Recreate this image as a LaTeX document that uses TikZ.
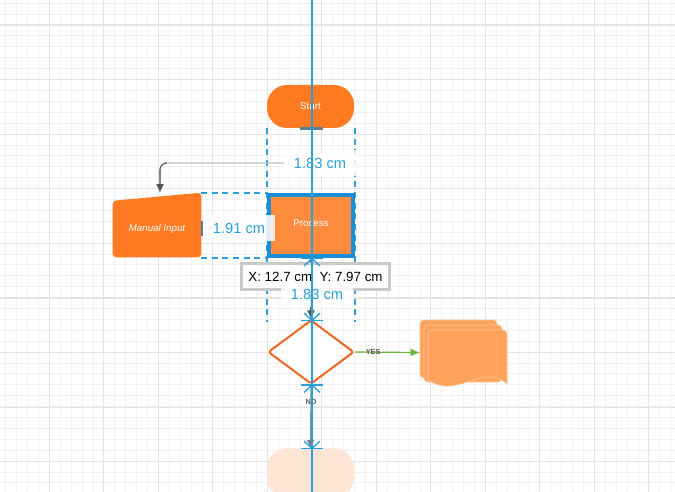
\documentclass[tikz,border=0pt]{standalone}
\usepackage{fontspec}
\setmainfont{Liberation Sans}
\usetikzlibrary{shapes.geometric,arrows.meta}
\definecolor{guide}{HTML}{2B9FDA}
\definecolor{selblue}{HTML}{1C8ED6}
\definecolor{orangeA}{HTML}{FF7A21}
\definecolor{orangeB}{HTML}{FF8B3E}
\definecolor{orangeC}{HTML}{FFA25B}
\definecolor{orangeD}{HTML}{F2661F}
\definecolor{peach}{HTML}{FFE5D6}
\definecolor{gminor}{HTML}{F1F1F1}
\definecolor{gmajor}{HTML}{E4E4E4}
\definecolor{yesgreen}{HTML}{6AB53C}
\definecolor{nored}{HTML}{C23B5B}
\definecolor{tipgray}{HTML}{C9C9C9}
\definecolor{bargray}{HTML}{5A7E96}
\definecolor{conngray}{HTML}{555555}
\tikzset{
  gridminor/.style={draw=gminor, line width=0.6pt},
  gridmajor/.style={draw=gmajor, line width=0.9pt},
  shapetext/.style={text=white, font=\fontsize{7.3}{8}\selectfont},
  dimlabel/.style={text=guide, font=\fontsize{11}{12}\selectfont, fill=white, fill opacity=0.85, text opacity=1, inner sep=0pt, minimum width=54pt, minimum height=19pt},
  guideline/.style={draw=guide, line width=1.1pt},
  dashguide/.style={draw=guide, line width=0.9pt, dash pattern=on 4.5pt off 3.5pt},
  dimmark/.style={draw=guide, line width=1pt},
  endbar/.style={draw=bargray, line width=1.6pt},
  flowarrow/.style={draw=conngray, line width=0.8pt, -{Latex[length=6.5pt,width=6pt]}},
  smalllabel/.style={text=black!65, font=\bfseries\fontsize{5.5}{6}\selectfont, inner sep=1pt}
}
\begin{document}
\begin{tikzpicture}[x=0.75pt,y=-0.75pt]
\useasboundingbox (0,0) rectangle (675,492);
\clip (0,0) rectangle (675,492);
\fill[white] (0,0) rectangle (675,492);
% grid
\foreach \i in {0,...,62} \draw[gridminor] ({5.7+10.9*\i},0) -- ({5.7+10.9*\i},492);
\foreach \i in {0,...,45} \draw[gridminor] (0,{3.2+10.9*\i}) -- (675,{3.2+10.9*\i});
\foreach \i in {0,...,11} \draw[gridmajor] ({49.3+54.5*\i},0) -- ({49.3+54.5*\i},492);
\foreach \i in {0,...,8} \draw[gridmajor] (0,{25+54.6*\i}) -- (675,{25+54.6*\i});

% dashed alignment guides
\draw[dashguide] (267,128) -- (267,322);
\draw[dashguide] (355,128) -- (355,322);
\draw[dashguide] (201,193) -- (267,193);
\draw[dashguide] (201,258) -- (267,258);

% shapes
\node[fill=orangeA, rounded corners=15pt, minimum width=65.25pt, minimum height=32.25pt, shapetext] (start) at (310.5,106.5) {Start};
\node[fill=orangeB, draw=selblue, line width=3pt, minimum width=63pt, minimum height=46pt, shapetext, anchor=center] (proc) at (311,225.5) {\raisebox{3pt}{Process}};
\node[minimum width=66pt, minimum height=48pt, inner sep=0pt] (mi) at (157,225) {};
\fill[orangeA, rounded corners=2.5pt] (mi.south west) -- ([yshift=-6pt]mi.north west) -- (mi.north east) -- (mi.south east) -- cycle;
\node[shapetext, font=\itshape\fontsize{7.3}{8}\selectfont] (mitext) at (157,229) {Manual Input};
\node[shape=diamond, draw=orangeD, fill=white, line width=1.5pt, rounded corners=2pt, minimum width=64.5pt, minimum height=48pt, inner sep=0pt] (dec) at (311,352) {};
\node[fill=peach, rounded corners=15pt, minimum width=65.25pt, minimum height=37pt] (endt) at (310.5,473) {};
% multi-document
\node[minimum width=65pt, minimum height=49pt, inner sep=0pt] (docs) at (463.5,352.5) {};
\filldraw[fill=orangeC, draw=white!40!orangeC, line width=0.5pt, rounded corners=3pt] (420,320) rectangle (497,378);
\filldraw[fill=orangeC, draw=white!40!orangeC, line width=0.5pt, rounded corners=3pt] (424,325) rectangle (502,382);
\filldraw[fill=orangeC, draw=white!40!orangeC, line width=0.5pt] (428,333) [rounded corners=3pt] -- (428,330) -- (507,330) [sharp corners] -- (507,384) .. controls (482,362) and (458,400) .. (428,380) -- cycle;

% connectors
\node[dimlabel] (lblA) at (320,163) {1.83 cm};
\coordinate (bend) at (160,163);
\draw[draw=black!25, line width=0.8pt, rounded corners=5pt] (lblA.west) -- (bend) -- (160,180);
\draw[flowarrow, rounded corners=5pt] (165,163) -- (bend) -- (mi.north -| bend);
\draw[flowarrow] (proc.south) -- (dec.north);
\draw[draw=yesgreen, line width=0.9pt, -{Latex[length=7pt,width=6pt]}] (dec.east) -- (docs.west) node[smalllabel, pos=0.28] {YES};
\draw[draw=black!45, line width=0.8pt, -{Latex[length=6pt,width=6pt,fill=nored]}] (dec.south) -- (endt.north);
\node[smalllabel] (nolbl) at (311,402) {NO};

% dimension labels
\draw[draw=black!20, line width=0.8pt] (203,228) -- (267,228);
\node[dimlabel] (lblB) at (239,228) {1.91 cm};
\draw[endbar] (202,221) -- (202,236);
\draw[endbar] (300,128.5) -- (323,128.5);

% tooltip
\node[draw=tipgray, line width=1.6pt, fill=white, minimum width=111pt, minimum height=19.5pt, inner sep=0pt, font=\fontsize{10}{11}\selectfont] (tip) at (315.5,276.5) {X: 12.7 cm\ \ Y: 7.97 cm};
\node[dimlabel] (lblC) at (317,294) {1.83 cm};

% vertical guide line
\draw[guideline] (312,0) -- (312,492);

% dimension end marks
\draw[dimmark] (301,258.5) -- (323,258.5);
\draw[dimmark] (304,266) -- (312,258.5) -- (320,266);
\draw[dimmark] (301,320.5) -- (323,320.5);
\draw[dimmark] (304,313) -- (312,320.5) -- (320,313);
\draw[dimmark] (301,385) -- (323,385);
\draw[dimmark] (304,392.5) -- (312,385) -- (320,392.5);
\draw[dimmark] (301,448.5) -- (323,448.5);
\draw[dimmark] (304,441) -- (312,448.5) -- (320,441);
\end{tikzpicture}
\end{document}
